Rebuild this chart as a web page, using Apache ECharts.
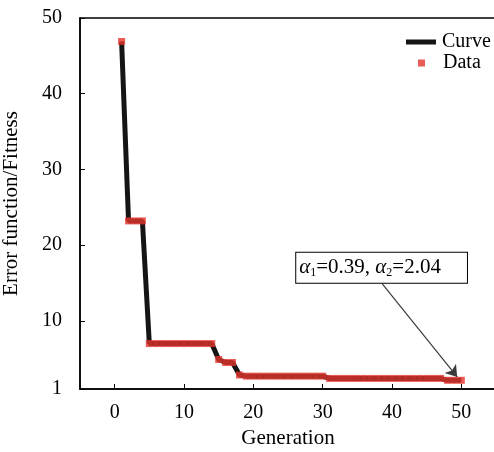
<!DOCTYPE html>
<html>
	<head>
		<meta charset="utf-8">
		<title>Error function / Fitness</title>
	</head>
	<body style="margin:0">
		<div id="main" style="width: 494px;height:452px;"></div>
	</body>
	<script src="https://cdn.jsdelivr.net/npm/echarts@6/dist/echarts.min.js"></script>
	<script type="text/javascript">
		'use strict'

		// generations and fitness values
		var generations = [];
		for (var g = 1; g <= 50; g++) generations.push(g);
		var fitness = [
			46.9, 23.2, 23.2, 23.2,
			7.0, 7.0, 7.0, 7.0, 7.0, 7.0, 7.0, 7.0, 7.0, 7.0,
			4.9, 4.5, 4.5, 2.85,
			2.7, 2.7, 2.7, 2.7, 2.7, 2.7, 2.7, 2.7, 2.7, 2.7, 2.7, 2.7,
			2.4, 2.4, 2.4, 2.4, 2.4, 2.4, 2.4, 2.4, 2.4, 2.4, 2.4, 2.4, 2.4, 2.4, 2.4, 2.4, 2.4,
			2.15, 2.15, 2.15
		];
		var xTicks = [0, 10, 20, 30, 40, 50];
		var yTicks = [1, 10, 20, 30, 40, 50];

		// annotation (data coordinates)
		var noteText = '{a|α}{s|1}=0.39, {a|α}{s|2}=2.04';
		var notePos = [38.5, 17.0];
		var arrowFrom = [38.6, 14.9];
		var arrowTo = [49.4, 2.6];

		var pairs = generations.map(function (x, i) { return [x, fitness[i]]; });
		var font = 'Liberation Serif';

		var myChart = echarts.init(document.getElementById('main'));
		var option = {
			animation: false,
			textStyle: { fontFamily: font, color: '#000' },
			grid: {
				left: 80, top: 18, width: 416, height: 371,
				outerBoundsMode: 'none',
				show: true, borderColor: '#000', borderWidth: 1.5
			},
			legend: [{
				data: [{ name: 'Curve', icon: 'rect' }],
				left: 401, top: 27,
				itemWidth: 30, itemHeight: 5,
				textStyle: { fontFamily: font, fontSize: 20, color: '#000', padding: [0, 0, 0, 1] }
			}, {
				data: [{ name: 'Data', icon: 'rect' }],
				left: 413, top: 48,
				itemWidth: 7, itemHeight: 7,
				textStyle: { fontFamily: font, fontSize: 20, color: '#000', padding: [0, 0, 0, 13] }
			}],
			xAxis: {
				type: 'value', min: -5, max: 55,
				name: 'Generation', nameLocation: 'middle', nameGap: 38,
				nameTextStyle: { fontFamily: font, fontSize: 21, color: '#000' },
				axisLine: { onZero: false, lineStyle: { color: '#000', width: 1.5 } },
				axisTick: { inside: true, length: 5, customValues: xTicks, lineStyle: { color: '#000' } },
				axisLabel: { customValues: xTicks, fontFamily: font, fontSize: 20, color: '#000', margin: 14 },
				splitLine: { show: false }
			},
			yAxis: {
				type: 'value', min: 1, max: 50,
				name: 'Error function/Fitness', nameLocation: 'middle', nameGap: 58,
				nameTextStyle: { fontFamily: font, fontSize: 21, color: '#000' },
				axisLine: { show: true, onZero: false, lineStyle: { color: '#000', width: 1.5 } },
				axisTick: { show: true, inside: true, length: 5, customValues: yTicks, lineStyle: { color: '#000' } },
				axisLabel: { customValues: yTicks, fontFamily: font, fontSize: 20, color: '#000', margin: 18 },
				splitLine: { show: false }
			},
			series: [{
				name: 'Curve',
				type: 'line',
				data: pairs,
				showSymbol: false,
				symbol: 'none',
				itemStyle: { color: '#151515' },
				lineStyle: { color: '#151515', width: 5 },
				z: 2
			}, {
				name: 'Data',
				type: 'scatter',
				data: pairs,
				symbol: 'rect',
				symbolSize: 7,
				itemStyle: { color: '#e5342d' },
				z: 3,
				markPoint: {
					silent: true,
					symbol: 'rect',
					symbolSize: 0,
					data: [{ coord: notePos }],
					label: {
						show: true,
						position: 'inside',
						formatter: noteText,
						backgroundColor: '#fff',
						borderColor: '#000',
						borderWidth: 1,
						padding: [4, 26, 4, 3],
						fontFamily: font,
						fontSize: 21,
						color: '#000',
						rich: {
							a: { fontFamily: font, fontStyle: 'italic', fontSize: 21, color: '#000' },
							s: { fontFamily: font, fontSize: 12, color: '#000', verticalAlign: 'bottom', padding: [10, 0, 0, 0] }
						}
					}
				}
			}, {
				name: 'arrow',
				type: 'line',
				data: [],
				z: 4,
				markLine: {
					silent: true,
					symbol: ['none', 'arrow'],
					symbolSize: 11,
					label: { show: false },
					lineStyle: { color: '#3a3a3a', width: 1.2, type: 'solid' },
					data: [[{ coord: arrowFrom }, { coord: arrowTo }]]
				}
			}]
		};
		myChart.setOption(option);
	</script>
</html>
